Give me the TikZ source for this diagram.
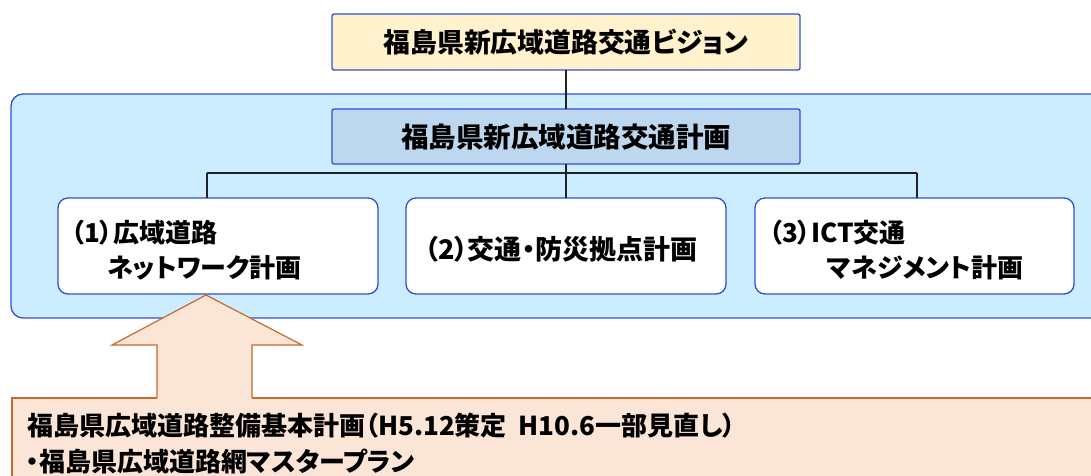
\documentclass[tikz,border=0pt]{standalone}
\usepackage{fontspec}
\newfontfamily\jp{Noto Sans CJK JP}[RawFeature=+palt]
\usetikzlibrary{calc}
\definecolor{bordblue}{HTML}{2F4FD6}
\definecolor{topfill}{HTML}{FFF2CC}
\definecolor{midfill}{HTML}{BDD7EE}
\definecolor{panelfill}{HTML}{CCECFF}
\definecolor{peach}{HTML}{FBE5D6}
\definecolor{arrline}{HTML}{C9692A}
\definecolor{conn}{HTML}{222222}
\tikzset{
  titlebox/.style={draw=bordblue, line width=1.3pt, rounded corners=2pt},
  childbox/.style={draw=bordblue, line width=1.3pt, fill=white, rounded corners=10pt},
  lbl/.style={inner sep=0pt, font=\jp\bfseries\fontsize{26}{30}\selectfont},
  topl/.style={inner sep=0pt, font=\jp\bfseries\fontsize{26.8}{30}\selectfont},
  midl/.style={inner sep=0pt, font=\jp\bfseries\fontsize{27.5}{32}\selectfont},
  connector/.style={draw=conn, line width=1.6pt},
}
\begin{document}
\begin{tikzpicture}[x=1pt,y=-1pt]
\useasboundingbox (0,0) rectangle (1091,475);
\clip (0,0) rectangle (1091,475);
% panel
\draw[draw=bordblue, line width=1.3pt, fill=panelfill, rounded corners=12pt] (11,94) rectangle (1110,318);
% bottom box
\draw[draw=arrline, line width=1.2pt, fill=peach] (12,398) rectangle (1110,500);
% top and middle
\draw[titlebox, fill=topfill] (332,14) rectangle (800,70);
\node[topl] (top) at (566,42) {福島県新広域道路交通ビジョン};
\coordinate (topS) at (566,70);
\draw[titlebox, fill=midfill] (332,109) rectangle (800,164);
\node[midl] (mid) at (566,137) {福島県新広域道路交通計画};
\coordinate (midN) at (566,109);
\coordinate (midS) at (566,164);
% children
\draw[childbox] (58,198) rectangle (378,294);
\draw[childbox] (406,198) rectangle (726,294);
\draw[childbox] (755,198) rectangle (1074,294);
\coordinate (c1N) at (207,198);
\coordinate (c2N) at (566,198);
\coordinate (c3N) at (917,198);
\coordinate (c1S) at (206,295);
\node[lbl, anchor=west] (c1a) at (71,233) {（1）広域道路};
\node[lbl, anchor=west] (c1b) at (107,268) {ネットワーク計画};
\node[lbl, font=\jp\bfseries\fontsize{27}{30}\selectfont] (c2) at (561,249) {（2）交通・防災拠点計画};
\node[lbl, anchor=west] (c3a) at (769,233) {（3）ICT交通};
\node[lbl, anchor=west] (c3b) at (827,268) {マネジメント計画};
% connectors
\coordinate (j1) at (207,173);
\coordinate (j2) at (566,173);
\coordinate (j3) at (917,173);
\draw[connector] (topS) -- (midN);
\draw[connector] (midS) -- (j2);
\draw[connector] (j1) -- (j3);
\draw[connector] (j1) -- (c1N);
\draw[connector] (j2) -- (c2N);
\draw[connector] (j3) -- (c3N);
% arrow
\fill[peach] (c1S) -- (112,345) -- (157,345) -- (157,399.5) -- (252,399.5) -- (252,345) -- (302,345) -- cycle;
\draw[arrline, line width=1.2pt, line join=miter] (157,398) -- (157,345) -- (112,345) -- (c1S) -- (302,345) -- (252,345) -- (252,398);
% bottom texts
\node[lbl, anchor=west] (b1) at (27,426) {福島県広域道路整備基本計画（H5.12策定\ \ H10.6一部見直し）};
\node[lbl, anchor=west] (b2) at (26,461) {・福島県広域道路網マスタープラン};
\end{tikzpicture}
\end{document}
